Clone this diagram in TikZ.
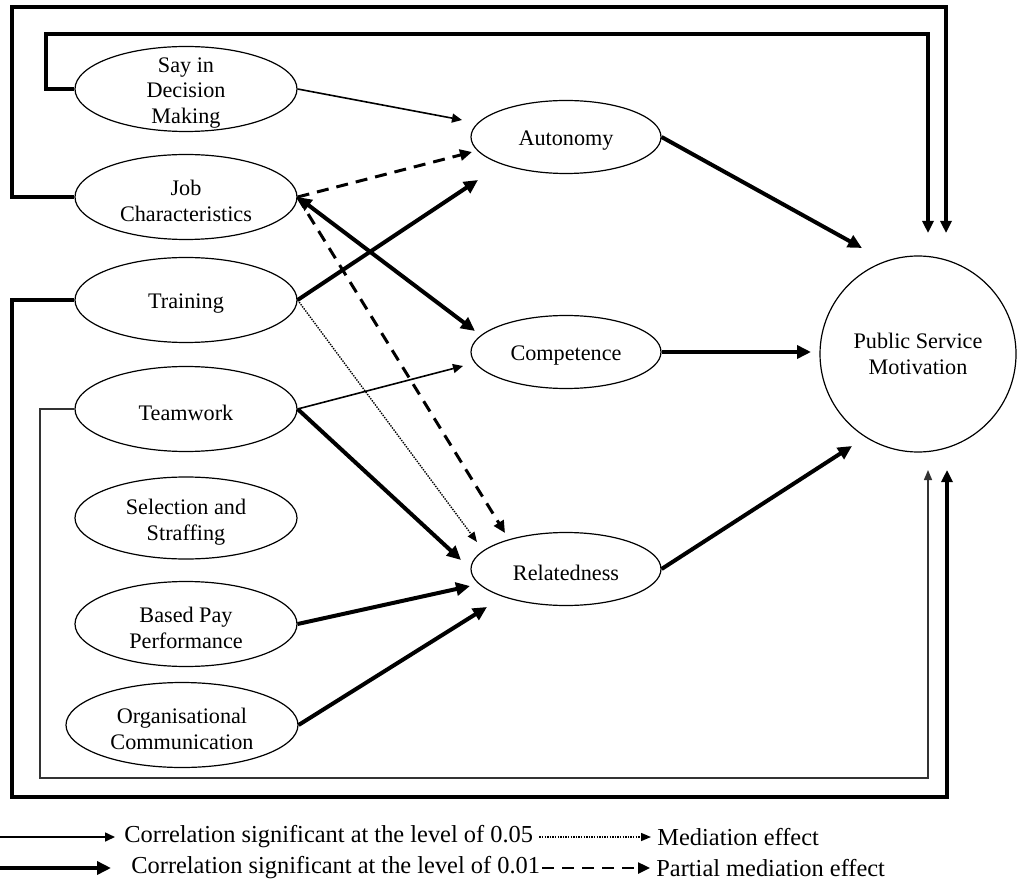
\documentclass[tikz,border=0pt]{standalone}
\usepackage{fontspec}
\setmainfont{Liberation Serif}
\usetikzlibrary{arrows.meta,calc,shapes.geometric}
\begin{document}
\begin{tikzpicture}[x=0.5pt,y=-0.5pt,
  nfont/.style={font=\fontsize{11.1}{12.8}\selectfont},
  lfont/.style={font=\fontsize{12.2}{14}\selectfont},
  ntext/.style={nfont,align=center,inner sep=0pt,yshift=-2pt},
  ell/.style={ellipse,draw,line width=0.6pt,inner sep=0pt,minimum width=111pt,minimum height=42.5pt},
  mid/.style={ellipse,draw,line width=0.6pt,inner sep=0pt,minimum width=95pt,minimum height=36.5pt},
  thinarr/.style={line width=0.8pt,-{Triangle[length=5pt,width=4.5pt]}},
  thickarr/.style={line width=2pt,-{Triangle[length=7pt,width=6.5pt]}},
  thickboth/.style={line width=2pt,{Triangle[length=7pt,width=6.5pt]}-{Triangle[length=7pt,width=6.5pt]}},
  dasharr/.style={line width=1.5pt,dash pattern=on 6pt off 4pt,-{Triangle[length=6pt,width=5.5pt]}},
  dotarr/.style={line width=0.7pt,dash pattern=on 0.7pt off 0.6pt,-{Triangle[length=5pt,width=4pt]}},
  frame/.style={line width=1.8pt,-{Triangle[length=6pt,width=5.5pt]}},
  thinframe/.style={line width=0.7pt,black!80,-{Triangle[length=5pt,width=4pt]}},
  legtext/.style={lfont,anchor=west,inner sep=0pt}
]
\useasboundingbox (0,0) rectangle (1031,892);

% left factors
\node[ell,label={[ntext]center:{Say in\\Decision\\Making}}] (say) at (186,89) {};
\node[ell,label={[ntext]center:{Job\\Characteristics}}] (jc) at (186,197) {};
\node[ell,label={[ntext]center:{Training}}] (tr) at (186,300) {};
\node[ell,label={[ntext]center:{Teamwork}}] (tw) at (186,409) {};
\node[ell,minimum height=41pt,label={[ntext]center:{Selection and\\Straffing}}] (ss) at (186,518) {};
\node[ell,label={[ntext]center:{Based Pay\\Performance}}] (bpp) at (186,624) {};
\node[ell,minimum width=116pt,label={[ntext]center:{Organisational\\Communication}}] (oc) at (182,725) {};

% mediators
\node[mid,label={[ntext]center:{Autonomy}}] (aut) at (566,137) {};
\node[mid,label={[ntext]center:{Competence}}] (comp) at (566,352) {};
\node[mid,label={[ntext]center:{Relatedness}}] (rel) at (566,569) {};

% outcome
\node[circle,draw,line width=0.6pt,minimum size=98pt,inner sep=0pt,align=center,nfont] (psm) at (918,354) {Public Service\\Motivation};

% paths
\draw[thinarr] (say.east) -- ($(aut)+(-104,-17)$);
\draw[dasharr] (jc.east) -- ($(aut)+(-94,15)$);
\draw[thickarr] (tr.east) -- ($(aut)+(-88,43)$);
\draw[thickboth] (jc.east) -- ($(comp)+(-91,-21)$);
\draw[dasharr] (jc.east) -- ($(rel)+(-61,-36)$);
\draw[dotarr] (tr.east) -- ($(rel)+(-89,-27)$);
\draw[thinarr] (tw.east) -- ($(comp)+(-103,14)$);
\draw[thickarr] (tw.east) -- ($(rel)+(-105,-9)$);
\draw[thickarr] (bpp.east) -- ($(rel)+(-96,17)$);
\draw[thickarr] (oc.east) -- ($(rel)+(-79,38)$);
\draw[thickarr] (aut.east) -- ($(psm)+(-56,-106)$);
\draw[thickarr] (comp.east) -- ($(psm)+(-107,-2)$);
\draw[thickarr] (rel.east) -- ($(psm)+(-66,92)$);

% direct effects (frame lines)
\draw[frame] (jc.west) -| (12,7) -| ($(psm)+(28,-121)$);
\draw[frame] (say.west) -| (46,34) -| ($(psm)+(10,-121)$);
\draw[frame] (tr.west) -| (12,797) -| ($(psm)+(29,116)$);
\draw[thinframe] (tw.west) -| (40,778) -| ($(psm)+(10,116)$);

% legend
\coordinate (la) at (0,837);
\node[legtext] (l1) at (124,837) {Correlation significant at the level of 0.05};
\draw[thinarr,shorten >=4.5pt] (la) -- (l1.west);
\node[legtext] (l2) at (657,837) {Mediation effect};
\draw[dotarr,shorten <=3pt,shorten >=3pt] (l1.east) -- (l2.west);

\coordinate (lb) at (0,868);
\node[legtext] (l3) at (131,868) {Correlation significant at the level of 0.01};
\draw[thickarr,line width=2.4pt,shorten >=10pt] (lb) -- (l3.west);
\node[legtext] (l4) at (656,868) {Partial mediation effect};
\draw[dasharr,line width=1.2pt,shorten <=1pt,shorten >=3pt] (l3.east) -- (l4.west);
\end{tikzpicture}
\end{document}
